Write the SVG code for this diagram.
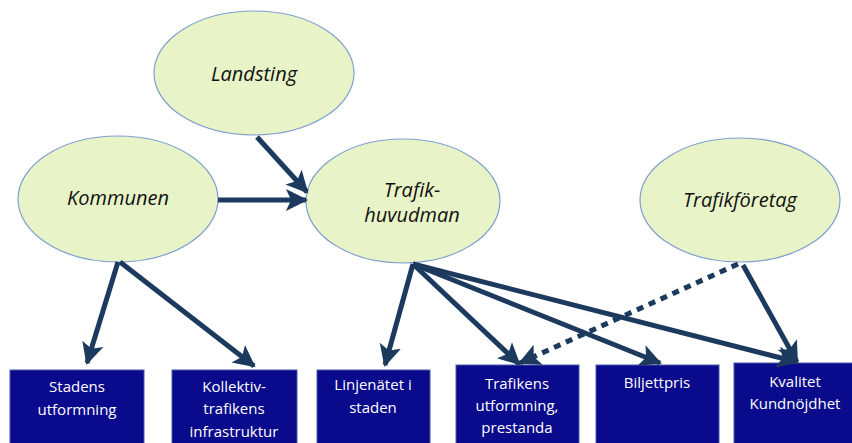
<svg xmlns="http://www.w3.org/2000/svg" width="852" height="443" viewBox="0 0 852 443">
<style>
.el{fill:#e8f4c8;stroke:#7f9fcf;stroke-width:1.2}
.et{font-family:"Open Sans","Liberation Sans",sans-serif;font-style:italic;font-size:20px;fill:#111;text-anchor:middle}
.bx{fill:#0a0a8c;stroke:#4a5aa8;stroke-width:1}
.bt{font-family:"Open Sans","Liberation Sans",sans-serif;font-size:15px;fill:#fff;text-anchor:middle}
.c{stroke:#1b3a5e;stroke-width:5;fill:none;marker-end:url(#ah)}
.d{stroke-dasharray:7 6}
</style>
<defs>
<marker id="ah" markerUnits="userSpaceOnUse" markerWidth="24" markerHeight="24" viewBox="0 0 24 24" refX="20" refY="12" orient="auto">
<path d="M0,1 L22,12 L0,23 L5,12 Z" fill="#1b3a5e"/>
</marker>
</defs>
<g id="landsting"><ellipse class="el" cx="254" cy="73" rx="100" ry="62"/><text class="et" x="254" y="81">Landsting</text></g>
<g id="kommunen"><ellipse class="el" cx="118" cy="199" rx="100" ry="63"/><text class="et" x="118" y="205">Kommunen</text></g>
<g id="trafikhuvudman"><ellipse class="el" cx="403" cy="201" rx="97" ry="62"/><text class="et" x="412" y="197">Trafik-</text><text class="et" x="412" y="222">huvudman</text></g>
<g id="trafikforetag"><ellipse class="el" cx="740" cy="200" rx="100" ry="62"/><text class="et" x="740" y="207">Trafikföretag</text></g>
<g id="b1"><rect class="bx" x="10" y="370" width="134" height="80"/><text class="bt" x="77" y="392">Stadens</text><text class="bt" x="77" y="415">utformning</text></g>
<g id="b2"><rect class="bx" x="172" y="370" width="125" height="80"/><text class="bt" x="234" y="392">Kollektiv-</text><text class="bt" x="234" y="414">trafikens</text><text class="bt" x="234" y="437">infrastruktur</text></g>
<g id="b3"><rect class="bx" x="317" y="370" width="113" height="80"/><text class="bt" x="373" y="390">Linjenätet i</text><text class="bt" x="373" y="413">staden</text></g>
<g id="b4"><rect class="bx" x="456" y="365" width="123" height="85"/><text class="bt" x="517" y="389">Trafikens</text><text class="bt" x="517" y="411">utformning,</text><text class="bt" x="517" y="433">prestanda</text></g>
<g id="b5"><rect class="bx" x="596" y="365" width="123" height="85"/><text class="bt" x="657" y="388">Biljettpris</text></g>
<g id="b6"><rect class="bx" x="734" y="363" width="125" height="87"/><text class="bt" x="795" y="387">Kvalitet</text><text class="bt" x="795" y="409">Kundnöjdhet</text></g>
<g id="connectors">
<line class="c" x1="257" y1="137" x2="307" y2="192"/>
<line class="c" x1="218" y1="200" x2="306" y2="200"/>
<line class="c" x1="118" y1="262" x2="87" y2="363"/>
<line class="c" x1="120" y1="262" x2="254" y2="366"/>
<line class="c" x1="413" y1="264" x2="385" y2="365"/>
<line class="c" x1="413" y1="264" x2="519" y2="364"/>
<line class="c" x1="413" y1="264" x2="660" y2="363"/>
<line class="c" x1="413" y1="264" x2="797" y2="362"/>
<line class="c d" x1="738" y1="264" x2="520" y2="363"/>
<line class="c" x1="743" y1="265" x2="797" y2="362"/>
</g>
</svg>
